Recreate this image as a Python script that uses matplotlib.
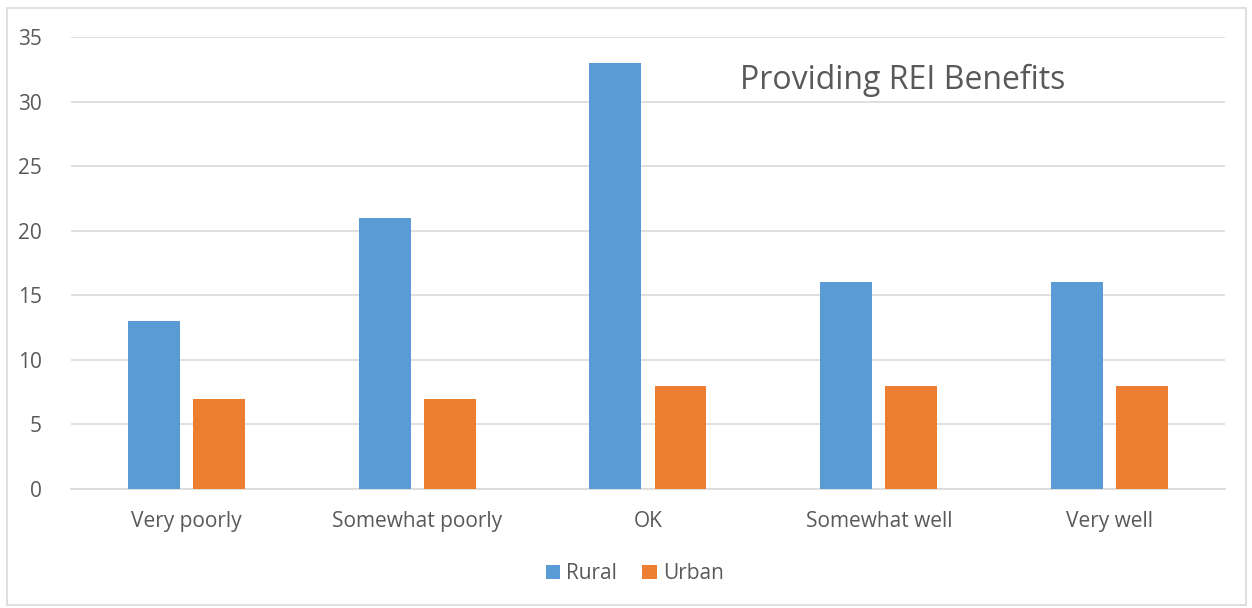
import numpy as np
import matplotlib.pyplot as plt
from matplotlib.patches import Rectangle

categories = ["Very poorly", "Somewhat poorly", "OK", "Somewhat well", "Very well"]
rural = [13, 21, 33, 16, 16]
urban = [7, 7, 8, 8, 8]
yticks = [0, 5, 10, 15, 20, 25, 30, 35]

plt.rcParams["font.family"] = ["Open Sans", "DejaVu Sans"]
text_color = "#595959"
grid_color = "#d9d9d9"

fig = plt.figure(figsize=(12.52, 6.08), dpi=100)
ax = fig.add_axes([0.0567, 0.1957, 0.9217, 0.7434])

x = np.arange(len(categories))
w = 0.225
ax.bar(x - 0.141, rural, w, color="#5b9bd5", label="Rural", zorder=3)
ax.bar(x + 0.141, urban, w, color="#ed7d31", label="Urban", zorder=3)

ax.set_xlim(-0.5, len(categories) - 0.5)
ax.set_ylim(0, 35)
ax.set_yticks(yticks)
ax.set_xticks(x)
ax.set_xticklabels(categories)
ax.yaxis.grid(True, color=grid_color, linewidth=1.2, zorder=0)
ax.tick_params(axis="both", length=0, labelsize=15, colors=text_color)
ax.tick_params(axis="x", pad=16)
ax.tick_params(axis="y", pad=21)
for side in ["top", "right", "left"]:
    ax.spines[side].set_visible(False)
ax.spines["bottom"].set_color(grid_color)
ax.spines["bottom"].set_linewidth(1.2)

ax.text(0.58, 0.905, "Providing REI Benefits", transform=ax.transAxes,
        fontsize=23, color=text_color, va="center", ha="left")

fig.legend(loc="center", bbox_to_anchor=(0.507, 0.056), ncol=2, frameon=False,
           fontsize=15, labelcolor=text_color, handlelength=0.7, handleheight=0.7,
           handletextpad=0.3, columnspacing=1.2)

fig.patches.append(Rectangle((0.0056, 0.005), 0.99, 0.982, transform=fig.transFigure,
                             fill=False, edgecolor=grid_color, linewidth=1.2))

plt.savefig("out.png", dpi=100)
